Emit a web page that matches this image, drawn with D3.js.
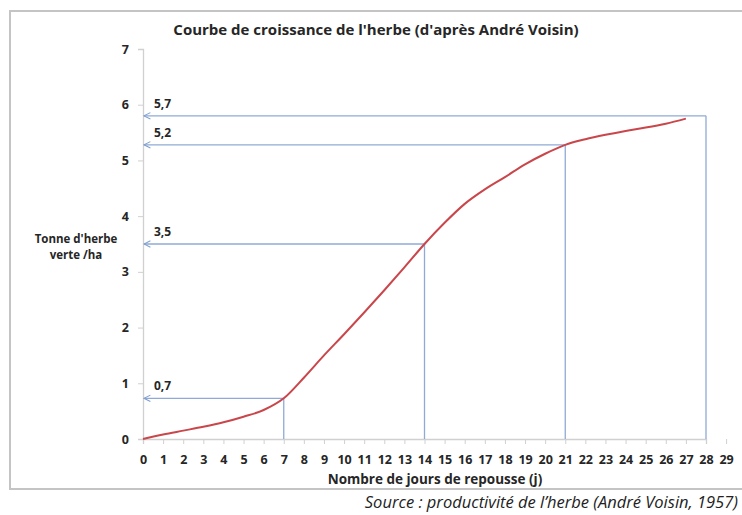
<!DOCTYPE html>
<html><head><meta charset="utf-8">
<script src="https://cdn.jsdelivr.net/npm/d3@7"></script>
<style>body{margin:0;background:#fff;} svg{display:block;}</style>
</head><body>
<svg id="c" width="742" height="515"></svg>
<script>
const days = [0,1,2,3,4,5,6,7,8,9,10,11,12,13,14,15,16,17,18,19,20,21,22,23,24,25,26,27];
const tonnes = [0,0.08,0.15,0.22,0.3,0.4,0.52,0.73,1.1,1.5,1.88,2.27,2.67,3.08,3.5,3.88,4.22,4.48,4.7,4.93,5.12,5.28,5.38,5.46,5.53,5.59,5.66,5.75];
const markDays = [7,14,21,28];
const markValues = [0.73,3.5,5.28,5.8];
const markLabels = ["0,7","3,5","5,2","5,7"];
const xTicks = d3.range(0,30);
const yTicks = [0,1,2,3,4,5,6,7];

const svg = d3.select("#c");
const x = d3.scaleLinear().domain([0,28]).range([143,706]);
const y = d3.scaleLinear().domain([0,7]).range([439,49]);
const FONT = "Open Sans, sans-serif";

svg.append("rect").attr("x",10).attr("y",11).attr("width",760).attr("height",478)
  .attr("fill","none").attr("stroke","#c4c4c4").attr("stroke-width",2);

svg.append("text").attr("x",376).attr("y",35).attr("text-anchor","middle")
  .attr("font-family",FONT).attr("font-weight","bold").attr("font-size",15)
  .attr("fill","#262626").text("Courbe de croissance de l'herbe (d'après André Voisin)");

const defs = svg.append("defs");
defs.append("marker").attr("id","arr").attr("viewBox","0 0 10 10").attr("refX",9).attr("refY",5)
  .attr("markerWidth",8).attr("markerHeight",8).attr("orient","auto")
  .attr("markerUnits","userSpaceOnUse")
  .append("path").attr("d","M1,1 L9,5 L1,9").attr("fill","none").attr("stroke","#7f9fcf").attr("stroke-width",1.3);

// axes
const yAxis = svg.append("g").attr("transform","translate(143,0)")
  .call(d3.axisLeft(y).tickValues(yTicks).tickSize(5).tickPadding(9).tickFormat(d3.format("d")));
const xAxis = svg.append("g").attr("transform","translate(0,439)")
  .call(d3.axisBottom(x).tickValues(xTicks).tickSize(5).tickPadding(11).tickFormat(d3.format("d")));
[yAxis,xAxis].forEach(a=>{
  a.select(".domain").attr("stroke","#d0d0d0").attr("stroke-width",1.3);
  a.selectAll(".tick line").attr("stroke","#d0d0d0");
  a.selectAll("text").attr("font-family",FONT).attr("font-weight","bold")
   .attr("font-size",12.5).attr("fill","#262626");
});

// guide lines
const g = svg.append("g");
markDays.forEach((d,i)=>{
  g.append("line").attr("x1",x(d)).attr("x2",x(d)).attr("y1",y(0)).attr("y2",y(markValues[i]))
    .attr("stroke","#8faad6").attr("stroke-width",1.3);
  g.append("line").attr("x1",x(d)).attr("x2",x(0)+1).attr("y1",y(markValues[i])).attr("y2",y(markValues[i]))
    .attr("stroke","#8faad6").attr("stroke-width",1.3).attr("marker-end","url(#arr)");
  g.append("text").attr("x",x(0)+11).attr("y",y(markValues[i])-8)
    .attr("font-family",FONT).attr("font-weight","bold").attr("font-size",12)
    .attr("fill","#262626").text(markLabels[i]);
});

// curve
const line = d3.line().x((d,i)=>x(days[i])).y(d=>y(d)).curve(d3.curveMonotoneX);
svg.append("path").datum(tonnes).attr("d",line).attr("fill","none")
  .attr("stroke","#c9464b").attr("stroke-width",2);

// axis titles
const yt = svg.append("text").attr("text-anchor","middle")
  .attr("font-family",FONT).attr("font-weight","bold").attr("font-size",11.5).attr("fill","#262626");
yt.append("tspan").attr("x",76).attr("y",243).text("Tonne d'herbe");
yt.append("tspan").attr("x",76).attr("y",259).text("verte /ha");

svg.append("text").attr("x",435).attr("y",484).attr("text-anchor","middle")
  .attr("font-family",FONT).attr("font-weight","bold").attr("font-size",13.5)
  .attr("fill","#262626").text("Nombre de jours de repousse (j)");

svg.append("text").attr("x",738).attr("y",508).attr("text-anchor","end")
  .attr("font-family",FONT).attr("font-style","italic").attr("font-size",16.5)
  .attr("fill","#222").text("Source : productivité de l’herbe (André Voisin, 1957)");
</script>
</body></html>
